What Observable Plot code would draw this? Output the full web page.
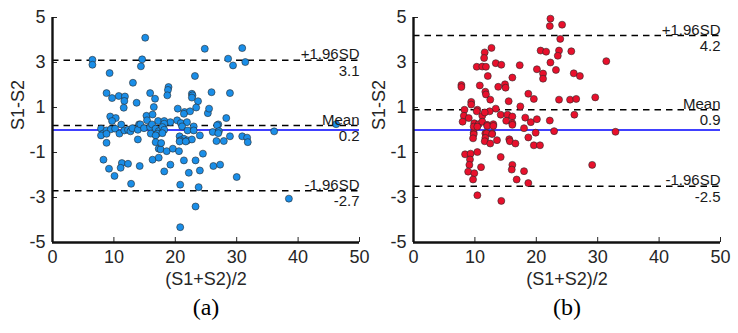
<!DOCTYPE html>
<html>
<head>
<meta charset="utf-8">
<script src="https://cdn.jsdelivr.net/npm/d3@7"></script>
<script src="https://cdn.jsdelivr.net/npm/@observablehq/plot@0.6"></script>
<style>
  html, body { margin: 0; padding: 0; background: #fff; }
  #chart { display: flex; width: 738px; height: 333px; }
  #chart svg { overflow: visible; }
</style>
</head>
<body>
<div id="chart"></div>
<script>
// Panel (a): mean of the two measurements vs their difference
const aX = [15.1, 6.5, 6.5, 14.6, 14.4, 9.3, 23.2, 13.1, 18.9, 18.8, 18.7, 8.8, 15.9, 22.7, 22.8, 22.7,
  10.8, 11.8, 9.7, 16.7, 11.7, 13.7, 23.7, 23.4, 11.6, 16.5, 20.4, 21.5, 22.4, 21.4, 9.4, 10.3,
  15.3, 16.3, 9.7, 17.2, 18.2, 19.2, 20.3, 14.1, 11.2, 15.4, 24.8, 30.9, 28.6, 29.4, 31.4, 25.9,
  28.9, 25.3, 25.5, 28.3, 27.0, 18.2, 20.9, 21.9, 23.0, 26.8, 46.2,
  7.9, 8.2, 8.8, 9.5, 10.2, 10.9, 11.7, 12.3, 12.7, 13.0, 13.9, 14.3, 14.9, 15.9, 16.0, 16.2,
  16.8, 17.3, 17.9, 18.2, 21.1, 22.0, 23.0, 24.0, 26.1, 27.1, 27.0, 17.1, 17.9,
  7.9, 8.8, 13.9, 16.8, 20.7, 21.4, 22.0, 22.7, 20.8,
  8.8, 16.8, 17.3, 8.3, 9.2, 11.3, 12.3, 11.1, 10.1, 14.2, 16.3, 17.3, 12.8, 18.2, 19.2, 21.4,
  20.8, 22.2, 23.3, 23.8, 23.3, 20.8, 24.0, 24.5, 26.2, 27.3, 30.0, 38.5, 17.6, 18.6, 19.6, 20.6,
  20.7, 17.7, 21.7, 26.7, 27.9, 28.9, 30.9, 31.7, 31.8, 36.1];
const aY = [4.1, 3.12, 2.9, 3.14, 2.83, 2.53, 2.4, 2.1, 1.91, 1.78, 1.54, 1.64, 1.64, 1.61, 1.54, 1.44,
  1.51, 1.49, 1.42, 1.39, 1.29, 1.21, 1.28, 1.0, 0.99, 1.02, 0.95, 0.8, 0.83, 0.72, 0.6, 0.53,
  0.63, 0.69, 0.4, 0.4, 0.4, 0.35, 0.43, 0.25, 0.24, 0.43, 3.61, 3.64, 3.17, 2.87, 3.02, 1.68,
  1.64, 0.75, 0.95, 0.53, 0.25, 0.28, 0.31, 0.35, 0.16, 0.21, 0.26,
  0.06, -0.16, -0.02, 0.03, 0.06, -0.16, -0.02, 0.01, -0.06, 0.08, 0.01, 0.25, 0.08, 0.13, -0.16, 0.25,
  0.06, -0.05, 0.13, 0.01, 0.16, -0.02, -0.02, -0.24, -0.09, -0.05, -0.14, -0.16, -0.14,
  -0.24, -0.17, -0.42, -0.24, -0.28, -0.39, -0.46, -0.42, -0.46,
  -0.57, -0.54, -0.83, -1.32, -1.72, -1.47, -1.5, -1.68, -2.04, -1.6, -1.32, -1.23, -2.39, -1.84, -1.54, -1.35,
  -2.43, -1.9, -1.35, -2.54, -3.4, -4.32, -1.8, -1.05, -1.6, -1.54, -2.09, -3.05, -0.86, -0.94, -0.83, -0.94,
  -0.51, -0.58, -0.51, -0.49, -0.49, -0.28, -0.28, -0.34, -0.54, -0.06];

// Panel (b)
const bX = [22.3, 22.2, 24.2, 23.9, 23.7, 23.5, 20.7, 21.6, 12.7, 11.6, 11.5, 10.3, 11.2, 11.8, 13.4, 14.3,
  17.3, 12.1, 22.3, 23.2, 20.1, 21.1, 21.1, 7.8, 7.8, 10.8, 13.8, 14.9, 15.0, 16.1, 11.7, 11.8,
  12.5, 9.4, 9.4, 8.3, 10.4, 10.3, 15.5, 17.4, 18.7, 19.6, 23.7, 25.5, 13.4, 14.2, 15.3, 16.1,
  8.2, 9.0, 11.2, 12.4, 11.6, 8.0, 9.9, 10.6, 11.2, 12.0, 13.0, 15.1, 16.1, 18.2, 19.1, 20.1,
  22.2, 18.0, 19.9, 22.9, 9.8, 11.7, 12.8,
  25.7, 31.4, 26.1, 27.1, 26.5, 29.6, 26.2, 32.9, 29.1,
  9.8, 10.4, 12.0, 13.0, 16.1, 9.8, 9.7, 11.9, 11.7, 11.6, 12.8, 12.5, 13.6, 15.6, 15.7, 16.6,
  18.7, 19.6, 20.6, 8.4, 9.3, 10.4, 9.2, 9.1, 8.9, 9.9, 9.7, 11.0, 14.2, 16.1, 16.0, 18.0,
  16.8, 18.7, 10.4, 14.3];
const bY = [4.95, 4.62, 4.68, 4.05, 3.53, 3.3, 3.53, 3.48, 3.65, 3.45, 3.2, 2.81, 2.82, 2.81, 2.97, 2.9,
  2.88, 2.4, 3.0, 2.67, 2.7, 2.51, 2.28, 2.0, 1.91, 1.98, 1.92, 2.03, 1.88, 2.33, 1.7, 1.58,
  1.35, 1.25, 1.13, 0.9, 0.9, 0.83, 1.28, 1.05, 1.61, 1.38, 1.35, 1.35, 0.95, 0.68, 0.68, 0.6,
  0.63, 0.53, 0.63, 0.83, 0.78, 0.37, 0.3, 0.26, 0.37, 0.23, 0.26, 0.41, 0.3, 0.55, 0.35, 0.48,
  0.42, 0.08, -0.12, -0.05, -0.12, -0.15, -0.15,
  3.5, 3.06, 2.52, 2.4, 1.38, 1.45, 0.68, -0.08, -1.55,
  0.15, 0.15, 0.18, 0.18, 0.23, -0.19, -0.37, -0.15, -0.35, -0.5, -0.18, -0.6, -0.45, -0.41, -0.5, -0.6,
  -0.33, -0.68, -0.68, -1.08, -1.05, -0.98, -1.31, -1.55, -1.85, -1.92, -2.2, -1.65, -1.2, -1.55, -1.76, -1.83,
  -2.2, -2.36, -2.9, -3.15];

// Limits of agreement and mean difference
const limitNames = ["+1.96SD", "Mean", "-1.96SD"];
const aLimits = [3.1, 0.2, -2.7];
const bLimits = [4.2, 0.9, -2.5];

const xTicks = [0, 10, 20, 30, 40, 50];
const yTicks = [-5, -3, -1, 1, 3, 5];

function panel({xs, ys, limits, fill, tag, marginLeft, marginRight}) {
  const points = xs.map((x, i) => ({x, y: ys[i]}));
  const rows = limits.map((v, i) => ({v, name: limitNames[i], num: v.toFixed(1)}));
  const fmt = d => `${d}`;
  return Plot.plot({
    width: 369,
    height: 333,
    marginLeft,
    marginRight,
    marginTop: 17,
    marginBottom: 91,
    style: {fontFamily: "'Liberation Sans', Arial, sans-serif", color: "#262626", background: "transparent"},
    x: {domain: [0, 50]},
    y: {domain: [-5, 5]},
    marks: [
      Plot.ruleY(rows, {y: "v", stroke: "#000", strokeWidth: 1.6, strokeDasharray: "6.5,5"}),
      Plot.ruleY([0], {stroke: "#0000ff", strokeWidth: 1.6}),
      Plot.dot(points, {x: "x", y: "y", r: 3.5, fill, stroke: "#2a2a2a", strokeWidth: 0.6}),
      Plot.text(rows, {x: 50, y: "v", text: "name", textAnchor: "end", lineAnchor: "bottom", dy: -1, fontSize: 15, fill: "#1a1a1a"}),
      Plot.text(rows, {x: 50, y: "v", text: "num", textAnchor: "end", lineAnchor: "top", dy: 5, fontSize: 15, fill: "#1a1a1a"}),
      Plot.axisX({ticks: xTicks, tickFormat: fmt, tickSize: -5, tickPadding: 13, fontSize: 18, label: null}),
      Plot.axisY({ticks: yTicks, tickFormat: fmt, tickSize: -5, tickPadding: 12, fontSize: 18, label: null}),
      Plot.ruleX([0], {stroke: "#111", strokeWidth: 2.4}),
      Plot.ruleY([-5], {stroke: "#111", strokeWidth: 2.4}),
      Plot.text(["S1-S2"], {text: d => d, frameAnchor: "left", dx: -34, rotate: -90, fontSize: 18, fill: "#262626"}),
      Plot.text(["(S1+S2)/2"], {text: d => d, frameAnchor: "bottom", dy: 42, fontSize: 18, fill: "#262626"}),
      Plot.text([tag], {text: d => d, frameAnchor: "bottom", dy: 72, fontSize: 24, fontFamily: "'Liberation Serif', 'Times New Roman', serif", fill: "#000"})
    ]
  });
}

const chart = document.getElementById("chart");
chart.append(panel({xs: aX, ys: aY, limits: aLimits, fill: "#1a8ee8", tag: "(a)", marginLeft: 52, marginRight: 10}));
chart.append(panel({xs: bX, ys: bY, limits: bLimits, fill: "#e8102c", tag: "(b)", marginLeft: 44, marginRight: 18}));
</script>
</body>
</html>
